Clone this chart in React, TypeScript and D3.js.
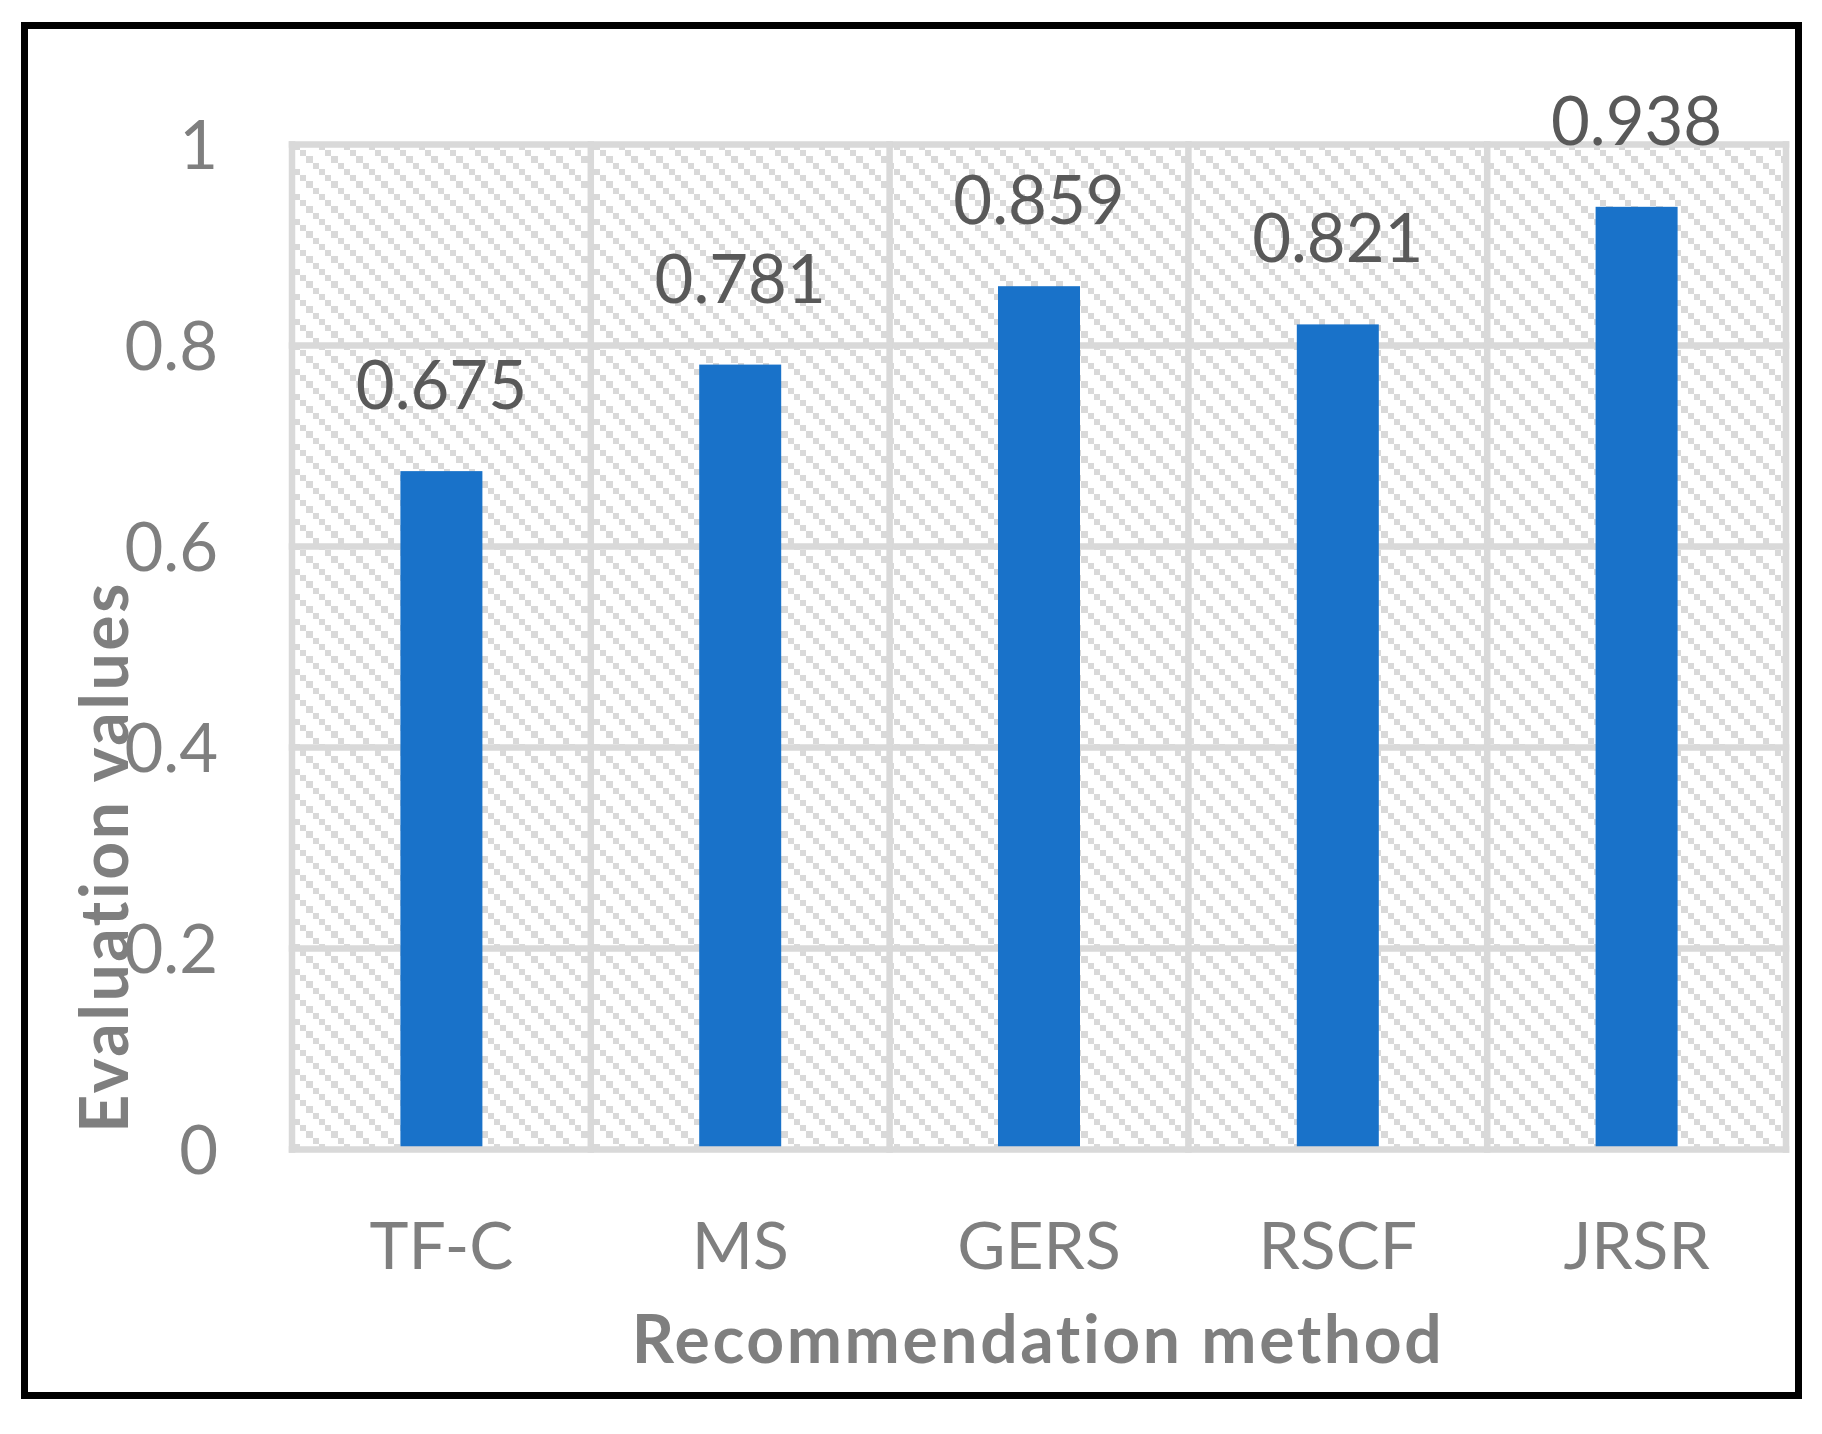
import React from 'react';
import { format, range, scaleBand, scaleLinear } from 'd3';

// data
const methods = ['TF-C', 'MS', 'GERS', 'RSCF', 'JRSR'];
const evaluationValues = [0.675, 0.781, 0.859, 0.821, 0.938];
const yTicks = [0, 0.2, 0.4, 0.6, 0.8, 1];
const yTickLabels = ['0', '0.2', '0.4', '0.6', '0.8', '1'];

const W = 1822;
const H = 1434;
const plot = { left: 292, right: 1786, top: 144.5, bottom: 1149.5 };
const grid = '#d9d9d9';
const font = 'Lato, "Open Sans", sans-serif';
const titleStyle = { letterSpacing: '2.6px', fontVariantLigatures: 'none' as const };

export default function App() {
	const x = scaleBand()
		.domain(methods)
		.range([plot.left, plot.right])
		.paddingInner(0.7256)
		.paddingOuter(0.3628);

	const y = scaleLinear()
		.domain([0, 1])
		.range([plot.bottom, plot.top]);

	const fmt = format('.3f');
	const vLines = range(methods.length + 1).map(i => plot.left + i * x.step());

	return (
		<svg width={W} height={H} style={{ position: 'absolute', left: 0, top: 0, background: '#fff' }}>
			<defs>
				<pattern id="hatch" patternUnits="userSpaceOnUse" width={25} height={25}>
					{[0, 1, 2, 3].map(i => (
						<rect key={i} x={i * 6.25} y={i * 6.25} width={6.25} height={6.25} fill={grid} shapeRendering="crispEdges" />
					))}
				</pattern>
			</defs>

			<rect x={0} y={0} width={W} height={H} fill="#fff" />

			{/* plot area with hatch */}
			<rect x={plot.left} y={plot.top} width={plot.right - plot.left} height={plot.bottom - plot.top} fill="url(#hatch)" />

			{/* gridlines */}
			<g stroke={grid} strokeWidth={6.5} strokeLinecap="square">
				{yTicks.filter(t => t > 0).map(t => (
					<line key={t} x1={plot.left} x2={plot.right} y1={y(t)} y2={y(t)} />
				))}
				{vLines.map((v, i) => (
					<line key={i} x1={v} x2={v} y1={plot.top} y2={plot.bottom} />
				))}
			</g>

			{/* bars */}
			{methods.map((m, i) => (
				<rect
					key={m}
					x={x(m)}
					y={y(evaluationValues[i])}
					width={x.bandwidth()}
					height={y(0) - y(evaluationValues[i])}
					fill="#1972c9"
				/>
			))}

			{/* baseline */}
			<line x1={plot.left} x2={plot.right} y1={y(0)} y2={y(0)} stroke={grid} strokeWidth={6.5} strokeLinecap="square" />

			{/* data labels */}
			<g fontFamily={font} fontSize={67} fill="#595959" textAnchor="middle">
				{methods.map((m, i) => (
					<text key={m} x={(x(m) ?? 0) + x.bandwidth() / 2} y={y(evaluationValues[i]) - 62}>
						{fmt(evaluationValues[i])}
					</text>
				))}
			</g>

			{/* y tick labels */}
			<g fontFamily={font} fontSize={67} fill="#7f7f7f" textAnchor="end">
				{yTicks.map((t, i) => (
					<text key={t} x={218} y={y(t) + 24}>{yTickLabels[i]}</text>
				))}
			</g>

			{/* category labels */}
			<g fontFamily={font} fontSize={66} fill="#7f7f7f" textAnchor="middle">
				{methods.map(m => (
					<text key={m} x={(x(m) ?? 0) + x.bandwidth() / 2} y={1269}>{m}</text>
				))}
			</g>

			{/* axis titles */}
			<text x={1038} y={1363} fontFamily={font} fontSize={66} fontWeight="bold" fill="#7f7f7f" textAnchor="middle" style={titleStyle}>
				Recommendation method
			</text>
			<text
				transform="translate(128,857) rotate(-90)"
				fontFamily={font}
				fontSize={66}
				fontWeight="bold"
				fill="#7f7f7f"
				textAnchor="middle"
				style={titleStyle}
			>
				Evaluation values
			</text>

			{/* outer frame */}
			<rect x={24.5} y={25.5} width={1774} height={1370} fill="none" stroke="#000" strokeWidth={7} />
		</svg>
	);
}
